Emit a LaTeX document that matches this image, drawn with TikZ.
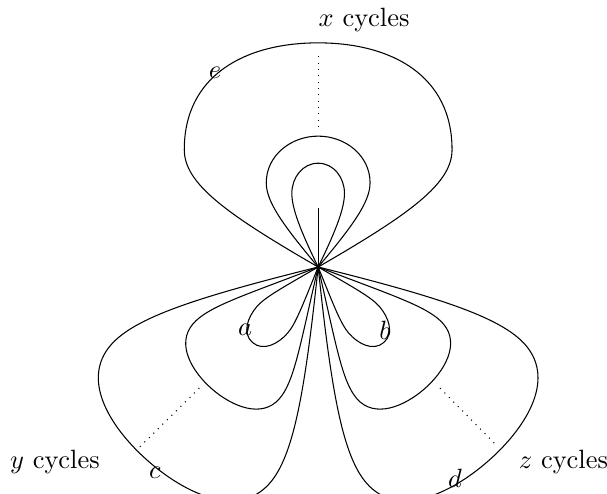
\documentclass[tikz,border=0pt]{standalone}
\usepackage{tikz}

\begin{document}
\begin{tikzpicture}[
    lbl/.style={inner sep=1pt},
    dots/.style={dotted}
]
\useasboundingbox (-4.23,-3.01) rectangle (3.84,3.55);

% ---- Vertex ----
\coordinate (v) at (0,0);

% ---- Top loops (x cycles) ----
\draw (v) to[out=150,in=-90,out distance=1.42cm,in distance=0.45cm] (-1.78,1.56)
    to[out=90,in=180,looseness=1.1] (0,2.98)
    to[out=0,in=90,looseness=1.1] (1.78,1.56)
    to[out=-90,in=30,out distance=0.45cm,in distance=1.42cm] (v);
\draw (v) to[out=130,in=-90,out distance=0.74cm,in distance=0.25cm] (-0.69,1.12)
    to[out=90,in=180] (0,1.74) to[out=0,in=90] (0.69,1.12)
    to[out=-90,in=50,out distance=0.25cm,in distance=0.74cm] (v);
\draw (v) to[out=116,in=-90,out distance=0.54cm,in distance=0.2cm] (-0.35,0.98)
    to[out=90,in=180] (0,1.38) to[out=0,in=90] (0.35,0.98)
    to[out=-90,in=64,out distance=0.2cm,in distance=0.54cm] (v);
\coordinate (stem) at (0,0.78);
\draw (v) -- (stem);
\coordinate (xdot1) at (0,1.86);
\coordinate (xdot2) at (0,2.85);
\draw[dots] (xdot1) -- (xdot2);
\node[lbl] (xcyc) at (0.61,3.29) {$x$ cycles};
\node[lbl] (elbl) at (-1.37,2.58) {$e$};

% ---- Bottom left loops (y cycles) ----
\begin{scope}[rotate=139]
\draw (v) to[out=109,in=-90,out distance=0.56cm,in distance=0.16cm] (-0.27,0.93)
    to[out=90,in=180] (0,1.33) to[out=0,in=90] (0.27,0.93)
    to[out=-90,in=71,out distance=0.16cm,in distance=0.56cm] (v);
\draw (v) to[out=118,in=-90,out distance=1.08cm,in distance=0.30cm] (-0.76,1.66)
    to[out=90,in=180] (0,2.15) to[out=0,in=90] (0.76,1.66)
    to[out=-90,in=62,out distance=0.30cm,in distance=1.08cm] (v);
\draw (v) to[out=125,in=-90,out distance=1.68cm,in distance=0.48cm] (-1.40,2.59)
    to[out=90,in=180] (0,3.43) to[out=0,in=90] (1.40,2.59)
    to[out=-90,in=55,out distance=0.48cm,in distance=1.68cm] (v);
\end{scope}
\coordinate (ydot1) at (-1.58,-1.61);
\coordinate (ydot2) at (-2.37,-2.39);
\draw[dots] (ydot1) -- (ydot2);
\node[lbl] (ycyc) at (-3.50,-2.59) {$y$ cycles};
\node[lbl] (albl) at (-0.97,-0.84) {$a$};
\node[lbl] (clbl) at (-2.17,-2.73) {$c$};

% ---- Bottom right loops (z cycles) ----
\begin{scope}[rotate=-139]
\draw (v) to[out=109,in=-90,out distance=0.56cm,in distance=0.16cm] (-0.27,0.93)
    to[out=90,in=180] (0,1.33) to[out=0,in=90] (0.27,0.93)
    to[out=-90,in=71,out distance=0.16cm,in distance=0.56cm] (v);
\draw (v) to[out=118,in=-90,out distance=1.08cm,in distance=0.30cm] (-0.76,1.66)
    to[out=90,in=180] (0,2.15) to[out=0,in=90] (0.76,1.66)
    to[out=-90,in=62,out distance=0.30cm,in distance=1.08cm] (v);
\draw (v) to[out=125,in=-90,out distance=1.68cm,in distance=0.48cm] (-1.40,2.59)
    to[out=90,in=180] (0,3.43) to[out=0,in=90] (1.40,2.59)
    to[out=-90,in=55,out distance=0.48cm,in distance=1.68cm] (v);
\end{scope}
\coordinate (zdot1) at (1.62,-1.61);
\coordinate (zdot2) at (2.39,-2.39);
\draw[dots] (zdot1) -- (zdot2);
\node[lbl] (zcyc) at (3.26,-2.59) {$z$ cycles};
\node[lbl] (blbl) at (0.89,-0.84) {$b$};
\node[lbl] (dlbl) at (1.82,-2.81) {$d$};

\end{tikzpicture}
\end{document}
